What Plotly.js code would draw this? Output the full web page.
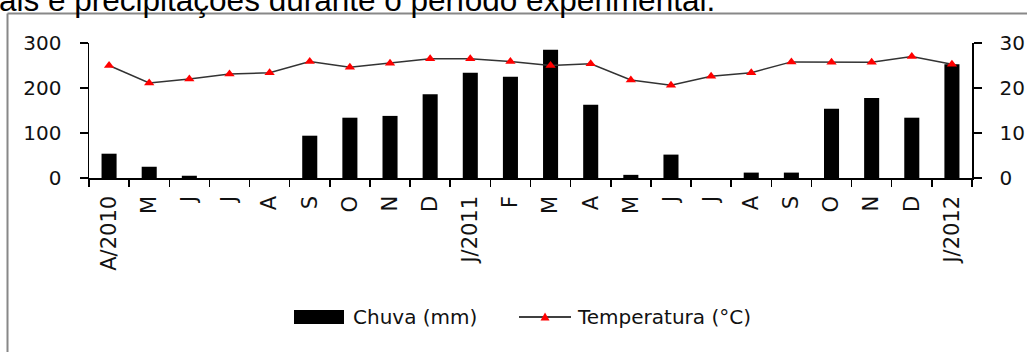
<!DOCTYPE html>
<html>
<head>
<meta charset="utf-8">
<script src="https://cdn.plot.ly/plotly-3.0.1.min.js"></script>
<style>
html,body{margin:0;padding:0;background:#fff;}
#chart{width:1027px;height:352px;}
</style>
</head>
<body>
<div id="chart"></div>
<script>
// Data
const periods = ["Abr/2010","Mai/2010","Jun/2010","Jul/2010","Ago/2010","Set/2010","Out/2010","Nov/2010","Dez/2010",
  "Jan/2011","Fev/2011","Mar/2011","Abr/2011","Mai/2011","Jun/2011","Jul/2011","Ago/2011","Set/2011","Out/2011","Nov/2011","Dez/2011","Jan/2012"];
const tickLabels = ["A/2010","M","J","J","A","S","O","N","D","J/2011","F","M","A","M","J","J","A","S","O","N","D","J/2012"];
const chuva = [54,25,5,0,0,94,134,138,186,234,225,285,163,7,52,0,12,12,154,178,134,253];
const temperatura = [25.0,21.1,22.0,23.1,23.4,25.9,24.6,25.5,26.5,26.5,25.9,25.0,25.4,21.8,20.6,22.6,23.4,25.8,25.7,25.7,27.0,25.3];
const seriesNames = ["Chuva (mm)","Temperatura (°C)"];
const captionText = "ais e precipitações durante o período experimental.";

// plot area geometry (pixels) used to place frame / legend drawn in paper coords
const L = 89, R = 972, T = 43, B = 178, W = 1027, H = 352;
const px = x => (x - L) / (R - L);
const py = y => (B - y) / (B - T);

const font = {family: "DejaVu Sans", size: 20, color: "#111"};
const xfont = {family: "DejaVu Sans", size: 21, color: "#111"};

const traces = [
  {type: "bar", x: periods, y: chuva, name: seriesNames[0], marker: {color: "#000"}, yaxis: "y", showlegend: false},
  {type: "scatter", mode: "lines+markers", x: periods, y: temperatura, name: seriesNames[1], yaxis: "y2",
   line: {color: "#333", width: 1.5}, marker: {symbol: "triangle-up", color: "#ff0000", size: 9}, showlegend: false}
];

const layout = {
  width: W, height: H,
  margin: {l: L, r: W - R, t: T, b: H - B},
  paper_bgcolor: "#fff", plot_bgcolor: "#fff",
  font: font,
  bargap: 0.625,
  showlegend: false,
  xaxis: {
    type: "category", tickmode: "array", tickvals: periods, ticktext: tickLabels,
    tickangle: -90, showline: true, linecolor: "#000", linewidth: 1.5,
    ticks: "outside", tickson: "boundaries", ticklen: 7, tickcolor: "#000", tickwidth: 1.5,
    showgrid: false, zeroline: false, ticklabelstandoff: 8, tickfont: xfont,
    range: [-0.5, periods.length - 0.5]
  },
  yaxis: {
    range: [0, 300], tickvals: [0, 100, 200, 300], showline: true, linecolor: "#000", linewidth: 1.5,
    ticks: "outside", ticklen: 8, tickcolor: "#000", tickwidth: 1.5, showgrid: false, zeroline: false,
    ticklabelstandoff: 14, tickfont: font
  },
  yaxis2: {
    range: [0, 30], tickvals: [0, 10, 20, 30], overlaying: "y", side: "right", showline: true, linecolor: "#000", linewidth: 1.5,
    ticks: "outside", ticklen: 8, tickcolor: "#000", tickwidth: 1.5, showgrid: false, zeroline: false,
    ticklabelstandoff: 14, tickfont: font
  },
  shapes: [
    // outer frame (top and left visible)
    {type: "line", xref: "paper", yref: "paper", x0: px(7.5), x1: px(1040), y0: py(13.5), y1: py(13.5), line: {color: "#888", width: 2}},
    {type: "line", xref: "paper", yref: "paper", x0: px(7.5), x1: px(7.5), y0: py(13.5), y1: py(400), line: {color: "#888", width: 2}},
    // legend
    {type: "rect", xref: "paper", yref: "paper", x0: px(294), x1: px(344), y0: py(310), y1: py(324), fillcolor: "#000", line: {width: 0}},
    {type: "line", xref: "paper", yref: "paper", x0: px(519), x1: px(571), y0: py(317), y1: py(317), line: {color: "#000", width: 1.5}},
    {type: "path", xref: "paper", yref: "paper",
     path: `M${px(545)},${py(312.5)} L${px(549.5)},${py(320.5)} L${px(540.5)},${py(320.5)} Z`,
     fillcolor: "#ff0000", line: {width: 0}}
  ],
  annotations: [
    {xref: "paper", yref: "paper", x: px(351), y: py(317), xanchor: "left", yanchor: "middle", text: seriesNames[0], showarrow: false, font: font},
    {xref: "paper", yref: "paper", x: px(575), y: py(317), xanchor: "left", yanchor: "middle", text: seriesNames[1], showarrow: false, font: font},
    {xref: "paper", yref: "paper", x: px(-3), y: py(20), xanchor: "left", yanchor: "bottom", text: captionText, showarrow: false,
     font: {family: "Liberation Sans", size: 31.5, color: "#000"}}
  ]
};

Plotly.newPlot("chart", traces, layout, {displayModeBar: false, staticPlot: true});
</script>
</body>
</html>
